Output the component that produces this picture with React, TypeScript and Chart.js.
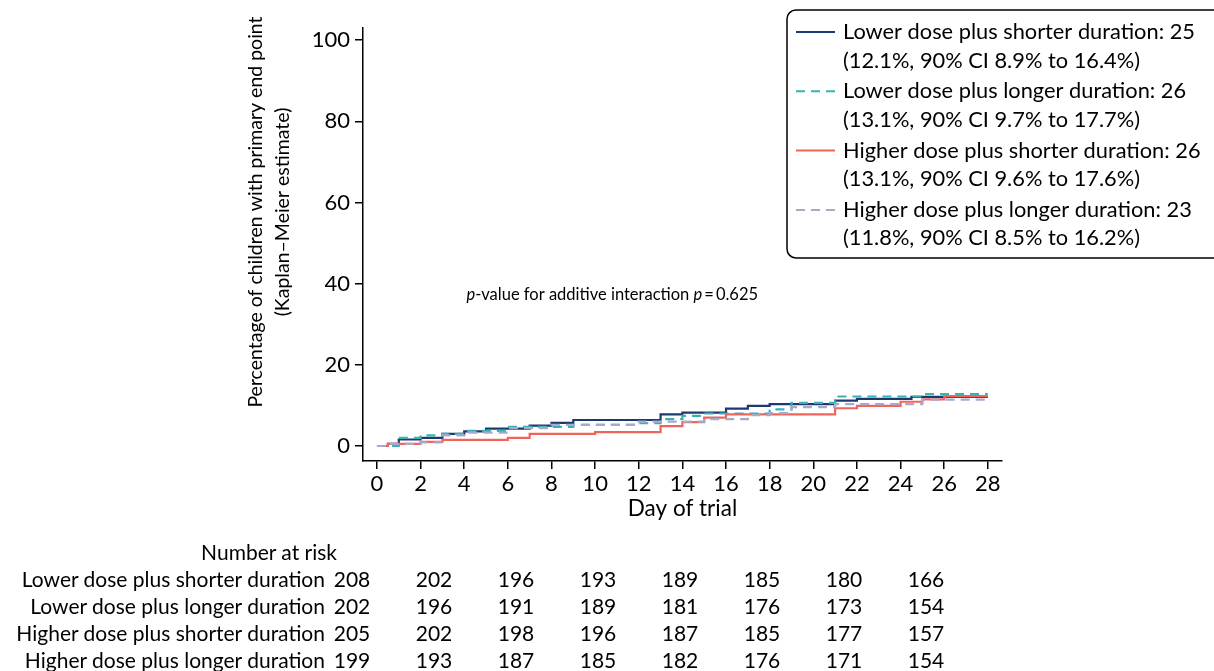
import React, { useEffect, useRef } from 'react';
import { Chart, registerables } from 'chart.js';

Chart.register(...registerables);

// ---------- data ----------
const seriesNames = [
  'Lower dose plus shorter duration',
  'Lower dose plus longer duration',
  'Higher dose plus shorter duration',
  'Higher dose plus longer duration',
];
const legendLine1 = [
  'Lower dose plus shorter duration: 25',
  'Lower dose plus longer duration: 26',
  'Higher dose plus shorter duration: 26',
  'Higher dose plus longer duration: 23',
];
const legendLine2 = [
  '(12.1%, 90% CI 8.9% to 16.4%)',
  '(13.1%, 90% CI 9.7% to 17.7%)',
  '(13.1%, 90% CI 9.6% to 17.6%)',
  '(11.8%, 90% CI 8.5% to 16.2%)',
];

const lsDays = [0, 0.5, 1, 2, 3, 4, 5, 7, 8, 9, 13, 14, 16, 17, 18, 21, 22, 24.5, 28];
const lsPct = [0, 0.5, 1.6, 2.0, 3.0, 3.6, 4.3, 5.0, 5.7, 6.4, 7.8, 8.2, 9.2, 9.9, 10.3, 11.2, 11.6, 12.1, 12.1];

const llDays = [0, 1, 2, 3, 4, 6, 9, 12, 13, 14, 15, 18, 19, 21, 25, 28];
const llPct = [0, 2.0, 2.6, 3.0, 3.7, 4.7, 5.2, 5.6, 6.6, 7.4, 8.0, 9.0, 10.6, 12.2, 12.8, 12.8];

const hsDays = [0, 0.5, 2, 3, 6, 7, 10, 13, 14, 15, 16, 21, 22, 24, 25, 26, 28];
const hsPct = [0, 0.5, 1.0, 1.5, 2.0, 3.0, 3.4, 4.9, 5.9, 7.0, 7.8, 9.3, 9.9, 10.9, 11.5, 12.3, 12.3];

const hlDays = [0, 0.5, 2, 3, 4, 6, 8, 12, 15, 17, 18, 19, 21, 25, 28];
const hlPct = [0, 0.5, 0.9, 2.6, 3.3, 4.4, 5.2, 6.0, 6.6, 7.6, 8.1, 9.6, 10.3, 11.4, 11.4];

const xTicks = [0, 2, 4, 6, 8, 10, 12, 14, 16, 18, 20, 22, 24, 26, 28];
const yTicks = [0, 20, 40, 60, 80, 100];

const riskHeader = 'Number at risk';
const riskLs = [208, 202, 196, 193, 189, 185, 180, 166];
const riskLl = [202, 196, 191, 189, 181, 176, 173, 154];
const riskHs = [205, 202, 198, 196, 187, 185, 177, 157];
const riskHl = [199, 193, 187, 185, 182, 176, 171, 154];

const yTitle = ['Percentage of children with primary end point', '(Kaplan\u2013Meier estimate)'];
const xTitle = 'Day of trial';

// ---------- styles ----------
const colors = ['#1c3a70', '#3ab2b4', '#f1645a', '#a9a9cb'];
const dashes: number[][] = [[], [9, 6], [], [9, 6]];
const FONT = 'Lato';

const toPts = (d: number[], v: number[]) => d.map((x, i) => ({ x, y: v[i] }));

const overlayPlugin = {
  id: 'overlay',
  afterDraw(chart: any) {
    const { ctx, scales } = chart;
    const xs = scales.x;
    const ys = scales.y;
    ctx.save();
    // y-axis title
    ctx.fillStyle = '#000';
    ctx.font = `19.5px ${FONT}`;
    ctx.textAlign = 'center';
    ctx.textBaseline = 'middle';
    [256, 283].forEach((px, i) => {
      ctx.save();
      ctx.translate(px, 212);
      ctx.rotate(-Math.PI / 2);
      ctx.fillText(yTitle[i], 0, 0);
      ctx.restore();
    });

    // annotation
    const ax = xs.getPixelForValue(4.1);
    const ay = ys.getPixelForValue(37.2);
    ctx.textAlign = 'left';
    const parts: [string, boolean][] = [
      ['p', true],
      ['-value for additive interaction ', false],
      ['p', true],
      ['\u2009=\u20090.625', false],
    ];
    let cx = ax;
    parts.forEach(([t, it]) => {
      ctx.font = `${it ? 'italic ' : ''}16.5px ${FONT}`;
      ctx.fillText(t, cx, ay);
      cx += ctx.measureText(t).width;
    });

    // legend box
    ctx.lineWidth = 1.5;
    ctx.strokeStyle = '#000';
    ctx.beginPath();
    ctx.roundRect(787, 10, 445, 248, 9);
    ctx.stroke();
    ctx.font = `21.8px ${FONT}`;
    for (let i = 0; i < 4; i++) {
      const y1 = 32 + i * 59.3;
      ctx.save();
      ctx.strokeStyle = colors[i];
      ctx.lineWidth = 2;
      ctx.setLineDash(dashes[i]);
      ctx.beginPath();
      ctx.moveTo(796, y1);
      ctx.lineTo(835, y1);
      ctx.stroke();
      ctx.restore();
      ctx.fillStyle = '#000';
      ctx.fillText(legendLine1[i], 843, y1);
      ctx.fillText(legendLine2[i], 843, y1 + 28.5);
    }
    ctx.restore();
  },
};

export default function App() {
  const ref = useRef<HTMLCanvasElement | null>(null);

  useEffect(() => {
    if (!ref.current) return;
    const sets = [
      toPts(lsDays, lsPct),
      toPts(llDays, llPct),
      toPts(hsDays, hsPct),
      toPts(hlDays, hlPct),
    ];
    const chart = new Chart(ref.current, {
      type: 'line',
      data: {
        datasets: sets.map((d, i) => ({
          label: seriesNames[i],
          data: d,
          borderColor: colors[i],
          borderWidth: 2.2,
          borderDash: dashes[i],
          pointRadius: 0,
          stepped: 'before' as const,
          fill: false,
          order: 4 - i,
        })),
      },
      options: {
        animation: false,
        responsive: false,
        maintainAspectRatio: false,
        events: [],
        layout: { padding: { left: 0, top: 28, right: 212, bottom: 140 } },
        plugins: { legend: { display: false }, tooltip: { enabled: false }, title: { display: false } },
        scales: {
          x: {
            type: 'linear',
            min: -0.64,
            max: 28.65,
            afterBuildTicks: (s: any) => { s.ticks = xTicks.map((v) => ({ value: v })); },
            afterFit: (s: any) => { s.height = 70; },
            grid: { drawOnChartArea: false, drawTicks: true, tickLength: 8, color: '#000', lineWidth: 1.5 },
            border: { display: true, color: '#000', width: 1.5 },
            ticks: { color: '#000', font: { family: FONT, size: 22 }, padding: 2, maxRotation: 0, autoSkip: false },
            title: { display: true, text: xTitle, color: '#000', font: { family: FONT, size: 22.5 }, padding: { top: 0, bottom: 9 } },
          },
          y: {
            type: 'linear',
            min: -3.7,
            max: 103,
            afterBuildTicks: (s: any) => { s.ticks = yTicks.map((v) => ({ value: v })); },
            afterFit: (s: any) => { s.width = 363; },
            grid: { drawOnChartArea: false, drawTicks: true, tickLength: 8, color: '#000', lineWidth: 1.5 },
            border: { display: true, color: '#000', width: 1.5 },
            ticks: { color: '#000', font: { family: FONT, size: 22 }, padding: 5 },
          },
        },
      },
      plugins: [overlayPlugin],
    });
    return () => chart.destroy();
  }, []);

  const rows = [riskLs, riskLl, riskHs, riskHl];
  const colX = [352, 434, 516, 598, 680, 762, 844, 926];
  const base: React.CSSProperties = {
    position: 'absolute',
    fontFamily: FONT,
    fontSize: 21,
    lineHeight: '26px',
    color: '#000',
    whiteSpace: 'nowrap',
  };
  const num: React.CSSProperties = { ...base, width: 60, textAlign: 'center' };

  return (
    <div style={{ position: 'absolute', left: 0, top: 0, width: 1214, height: 671, background: '#fff', overflow: 'hidden' }}>
      <canvas ref={ref} width={1214} height={671} style={{ position: 'absolute', left: 0, top: 0, width: 1214, height: 671 }} />
      <div style={{ ...base, right: 1214 - 337, top: 552 - 13 }}>{riskHeader}</div>
      {rows.map((r, ri) => (
        <React.Fragment key={ri}>
          <div style={{ ...base, right: 1214 - 325, top: 579 + ri * 27 - 13 }}>{seriesNames[ri]}</div>
          {r.map((n, ci) => (
            <div key={ci} style={{ ...num, left: colX[ci] - 30, top: 579 + ri * 27 - 13 }}>{n}</div>
          ))}
        </React.Fragment>
      ))}
    </div>
  );
}
